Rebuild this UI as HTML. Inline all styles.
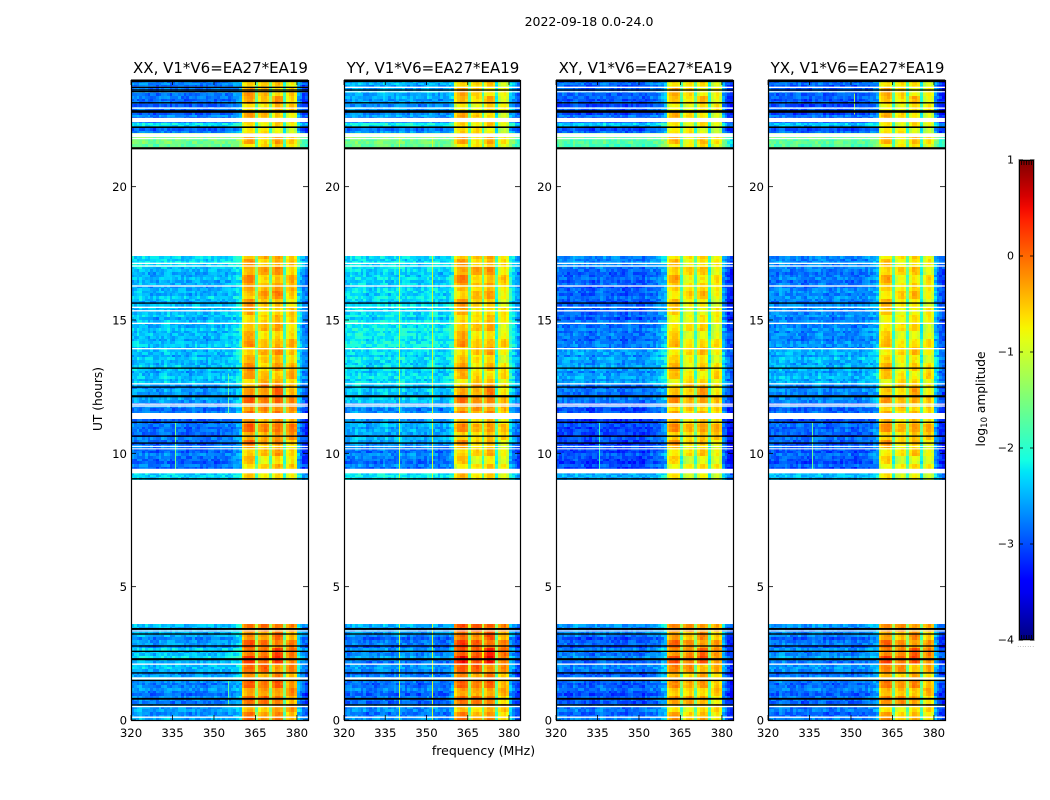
<!DOCTYPE html>
<html><head><meta charset="utf-8"><title>2022-09-18 0.0-24.0</title>
<style>
html,body{margin:0;padding:0;background:#fff;width:1050px;height:800px;overflow:hidden}
svg{display:block}
text{font-family:"DejaVu Sans","Liberation Sans",sans-serif;fill:#000}
</style></head>
<body>
<svg id="fig" xmlns="http://www.w3.org/2000/svg" width="1050" height="800" viewBox="0 0 1050 800">
<defs><linearGradient id="cbar-grad" x1="0" y1="1" x2="0" y2="0"></linearGradient></defs>
<text x="589" y="26" font-size="12.5" text-anchor="middle">2022-09-18 0.0-24.0</text>
<text x="483.5" y="755" font-size="12.5" text-anchor="middle">frequency (MHz)</text>
<text x="0" y="0" font-size="12.2" text-anchor="middle" transform="translate(102,399) rotate(-90)">UT (hours)</text>
<text x="0" y="0" font-size="12.2" text-anchor="middle" transform="translate(985,399) rotate(-90)">log<tspan font-size="8.5" dy="2">10</tspan><tspan dy="-2"> amplitude</tspan></text>
<g id="panels"></g>
<g id="colorbar"></g>
</svg>
<script>
/* ---- chart data ---- */
const panelNames = ['XX', 'YY', 'XY', 'YX'];
const baselineLabel = 'V1*V6=EA27*EA19';
const xTicks = [320, 335, 350, 365, 380];
const yTicks = [0, 5, 10, 15, 20];
const cbarTicks = [1, 0, -1, -2, -3, -4];
const cbarLabels = ['1', '0', '\u22121', '\u22122', '\u22123', '\u22124'];

/* time blocks: start UT, end UT */
const blockStart = [0.0,0.5,1.5,2.1,2.7,3.2, 9.0,9.4,10.3,11.5,11.9,12.6,13.9,15.0,15.9,16.3,17.0, 21.4,22.0,22.2,22.4,22.7,23.5];
const blockEnd   = [0.5,1.5,2.1,2.7,3.2,3.6, 9.4,10.3,11.3,11.9,12.6,13.9,15.0,15.9,16.3,17.0,17.4, 22.0,22.2,22.4,22.7,23.5,24.0];
/* mean log10 amplitude of the 320-360 MHz part per block */
const lowXX = [-2.6,-2.7,-2.5,-2.4,-2.6,-2.5, -2.4,-2.8,-2.85,-2.8,-2.6,-2.45,-2.45,-2.45,-2.5,-2.5,-2.3, -1.5,-2.8,-2.25,-2.7,-2.85,-2.75];
const lowYY = [-2.7,-2.8,-2.7,-2.7,-2.8,-2.6, -2.3,-2.75,-2.55,-2.7,-2.4,-2.3,-2.2,-2.3,-2.3,-2.35,-2.3, -1.5,-2.7,-2.15,-2.6,-2.6,-2.5];
const lowXY = [-2.8,-2.9,-2.8,-2.8,-2.9,-2.7, -2.6,-3.0,-3.05,-3.0,-2.8,-2.6,-2.8,-2.9,-2.9,-2.9,-2.7, -1.7,-2.9,-2.4,-2.8,-2.95,-2.85];
const lowYX = [-2.8,-2.8,-2.7,-2.7,-2.8,-2.7, -2.5,-2.9,-2.9,-2.9,-2.7,-2.5,-2.7,-2.7,-2.7,-2.8,-2.7, -1.6,-2.9,-2.4,-2.8,-2.95,-2.85];
/* mean log10 amplitude of the 360-380 MHz part per block */
const highXX = [-.35,-.25,-.25,-.05,-.2,-.3, -.65,-.6,-.3,-.2,-.25,-.5,-.55,-.55,-.4,-.45,-.45, -.6,-.8,-.8,-.6,-.55,-.6];
const highYY = [-.4,-.25,-.15,.15,-.05,-.1, -.55,-.65,-.5,-.25,-.35,-.6,-.55,-.55,-.55,-.4,-.45, -.6,-.7,-.7,-.6,-.65,-.6];
const highXY = [-.6,-.5,-.4,-.15,-.3,-.4, -.8,-.75,-.5,-.5,-.5,-.7,-.75,-.75,-.65,-.65,-.65, -.7,-.8,-.8,-.7,-.7,-.7];
const highYX = [-.6,-.4,-.4,-.1,-.3,-.4, -.8,-.75,-.5,-.5,-.55,-.7,-.75,-.7,-.65,-.65,-.65, -.7,-.8,-.8,-.7,-.7,-.7];

/* frequency channels and their offsets from the block mean */
const lowChannels = [320,321,322,323,324,325,326,327,328,329,330,331,332,333,334,335,336,337,338,339,340,341,342,343,344,345,346,347,348,349,350,351,352,353,354,355,356,357,358,359];
const lowOffsetXX = [.05,.05,.1,.1,.05,.05,0,0,-.05,-.05,.05,.05,.1,.1,0,0,.05,.05,0,0,-.05,-.05,.05,.05,0,0,-.05,-.05,.05,.05,0,0,.05,.05,.05,.05,.1,.15,.25,.35];
const lowOffsetYY = [0,0,.05,.05,.1,.1,.05,.05,-.05,-.05,0,0,.05,.05,.1,.1,0,0,.05,.05,.1,.1,0,0,.05,.05,-.05,-.05,0,0,.1,.1,.05,.05,-.05,-.05,0,0,.15,.25];
const lowOffsetXY = [.05,.05,.05,.05,0,0,.1,.1,.05,.05,0,0,-.05,-.05,.05,.05,.1,.1,0,0,.05,.05,0,0,-.05,-.05,.05,.05,0,0,-.05,-.05,.05,.05,.1,.1,.15,.2,.35,.45];
const lowOffsetYX = [.05,.05,0,0,.1,.1,.05,.05,0,0,.05,.05,-.05,-.05,0,0,.05,.05,.1,.1,0,0,-.05,-.05,.05,.05,0,0,.05,.05,-.05,-.05,0,0,.05,.05,.1,.1,.2,.3];
const highChannels = [360,361,362,363,364,365,366,367,368,369,370,371,372,373,374,375,376,377,378,379];
const highOffset   = [-.35,-.1,0,.05,-.1,-1.15,-.2,-.05,.05,-.1,-1.15,-.2,.05,.05,-.1,-1.3,-.25,-.05,.05,-.2];
const subbandXX = [.05,0,.05,-.05];
const subbandYY = [.05,-.05,0,-.2];
const subbandXY = [.05,-.05,0,-.1];
const subbandYX = [.05,-.05,0,-.1];
const edgeChannels = [380,381,382,383];
const edgeOffset   = [.3,.05,-.2,-.3];

/* per-0.1 h row variation (tenths of a decade), one value per data row */
const rowStripe = [
 2,-1,-2,1,0,3,-2,0,1,-3,-1,2,0,-2,1,2,-1,-3,0,2,1,-2,-1,3,0,-1,2,-2,1,0,-3,2,1,-1,0,2,
 1,2,1,-1,-2,1,-3,-1,0,2,-2,-1,1,-2,0,2,-3,0,1,-1,2,0,-2,1,-1,2,-2,0,1,2,-1,1,-2,0,1,-1,2,0,-2,1,1,-1,0,2,-2,1,0,-1,2,1,-2,0,1,-1,2,-1,0,1,-2,2,0,-1,1,1,-2,0,2,-1,1,0,-2,1,-1,2,0,-1,1,
 2,0,1,-1,0,2,-3,-1,-2,1,3,1,-2,-1,1,-2,-3,1,-2,0,2,-2,1,-1,2,1];
/* cell-to-cell speckle (tenths of a decade) sampled through the grid */
const speckle = [
 1,-2,3,0,-3,2,-1,1,-4,2,0,-2,3,-1,1,-3,2,0,-1,4,-2,1,0,-3,2,-1,3,-2,0,1,
 -3,2,1,-1,-2,3,0,-4,1,2,-1,0,-3,3,1,-2,2,-1,0,-3,1,4,-2,0,2,-1,-3,1,0,3,
 -2,1,-1,2,-3,0,3,-2,1,-1,0,2,-4,1,3,-1,0,-2,2,1,-3,0,2,-1,3,-2,1,0,-3,2,
 -1,1,3,-2,0,-4,2,1,-1,0,2];
/* slower amplitude blobs in the four high-frequency sub-bands, one value per 0.3 h of data */
const blobA = [3,-1,2,-1,3,0,2,3,-1,3,0,2, 1,-1,2,0,3,-1,3,1,-1,3,0,-2,2,3,1,-1,3,2,0,-1,2,3,-1,1,3,0,2,-1,3,1, 1,3,-1,2,3,0,2];
const blobB = [1,-2,3,0,2,-1,3,1,0,2,-1,3, -1,1,-2,2,0,-1,2,-1,1,2,0,2,1,-1,0,2,1,-1,2,0,-1,1,2,0,-1,2,-1,1,0,2, 0,2,-1,1,2,1,0];
const blobC = [2,0,1,-1,3,1,-1,3,2,0,2,1, 0,2,-1,3,1,0,2,1,-1,2,3,1,-1,2,0,3,1,-1,2,1,-1,0,3,1,-1,2,0,1,3,-1, 2,0,1,3,-1,1,0];
const blobD = [0,2,-1,2,1,-1,2,0,1,2,-1,2, -1,2,0,1,-1,2,3,0,1,2,-1,0,3,2,-1,1,3,0,-1,1,2,-1,0,1,2,-1,1,0,2,-1, 1,-1,2,0,1,-1,2];

/* flagged (blank) samples: start UT, end UT */
const whiteStart = [.08,.48,1.52,2.07,3.32, 9.25,10.15,10.24,11.3,11.75,11.82,12.58,13.9,14.85,15.32,15.45,16.25,17.0,17.1, 21.78,21.86,22.42,22.92,23.54,23.7];
const whiteEnd   = [.13,.53,1.6,2.12,3.36, 9.42,10.19,10.28,11.5,11.8,11.87,12.63,13.95,14.9,15.37,15.5,16.3,17.05,17.15, 21.83,22.0,22.58,22.97,23.58,23.75];
/* zero-valued samples drawn black: start UT, end UT */
const blackStart = [.54,.76,1.46,1.74,2.24,2.55,2.75,3.2,3.38, 9.02,10.36,10.62,11.14,12.1,12.46,13.17,15.61, 21.4,22.2,22.77,23.12,23.6,23.92];
const blackEnd   = [.59,.83,1.51,1.79,2.32,2.6,2.8,3.25,3.45, 9.07,10.41,10.67,11.19,12.18,12.51,13.22,15.66, 21.48,22.26,22.87,23.17,23.65,24.02];
/* samples that are zero only in the XX panel */
const xxBlackStart = [23.54,23.7];
const xxBlackEnd   = [23.59,23.75];

/* narrow interference channels */
const rfiPanel = [0,0,0,1,1,1,1,1,1,2,3,3];
const rfiFreq  = [335.9,355,355,339.9,339.9,339.9,351.9,351.9,351.9,335.5,336,351];
const rfiStart = [9.4,11.5,0.5,0,9,21.4,0,9,21.4,9.4,9.4,22.7];
const rfiEnd   = [11.2,13,1.5,3.6,17.4,22,3.6,17.4,22,11.2,11.2,23.5];
const rfiValue = [-1.5,-1.7,-1.7,-1.1,-1.1,-1.1,-1.0,-1.0,-1.0,-1.9,-1.6,-1.3];

/* ---- axes ---- */
const panelLeft = [131, 344, 556, 768];
const panelRight = [308, 520, 733, 945];
const axisTop = 80, axisBottom = 720;
const xMin = 320, xMax = 384, utMax = 24;
const vMin = -4, vMax = 1;
const cbarTop = 160, cbarBottom = 640, cbarLeft = 1019, cbarRight = 1034;
function xPos(p, f){ return panelLeft[p] + (f - xMin) / (xMax - xMin) * (panelRight[p] - panelLeft[p]); }
function yPos(ut){ return axisBottom - ut / utMax * (axisBottom - axisTop); }
function cbarY(v){ return cbarBottom - (v - vMin) / (vMax - vMin) * (cbarBottom - cbarTop); }

function interp(pts, t){
  for (let i = 1; i < pts.length; i++) {
    if (t <= pts[i][0]) {
      const a = pts[i-1], b = pts[i];
      return a[1] + (b[1] - a[1]) * (t - a[0]) / (b[0] - a[0]);
    }
  }
  return pts[pts.length-1][1];
}
const jetR = [[0,0],[.35,0],[.66,1],[.89,1],[1,.5]];
const jetG = [[0,0],[.125,0],[.375,1],[.64,1],[.91,0],[1,0]];
const jetB = [[0,.5],[.11,1],[.34,1],[.65,0],[1,0]];
function jet(v){
  const t = Math.min(1, Math.max(0, (v - vMin) / (vMax - vMin)));
  return 'rgb(' + Math.round(interp(jetR,t)*255) + ',' + Math.round(interp(jetG,t)*255) + ',' + Math.round(interp(jetB,t)*255) + ')';
}

const NS = 'http://www.w3.org/2000/svg';
function mk(tag, attrs, parent){
  const el = document.createElementNS(NS, tag);
  for (const k in attrs) el.setAttribute(k, attrs[k]);
  parent.appendChild(el);
  return el;
}

const lowByPanel = [lowXX, lowYY, lowXY, lowYX];
const highByPanel = [highXX, highYY, highXY, highYX];
const lowOffsets = [lowOffsetXX, lowOffsetYY, lowOffsetXY, lowOffsetYX];
const subbands = [subbandXX, subbandYY, subbandXY, subbandYX];
const blobs = [blobA, blobB, blobC, blobD];
const panelsG = document.getElementById('panels');

function channelValue(p, b, ci, dataRow){
  const stripe = rowStripe[dataRow % rowStripe.length] * 0.05;
  const sp = speckle[(ci * 17 + dataRow * 31 + p * 41) % speckle.length] * 0.06 - 0.03;
  if (ci < lowChannels.length) {
    return lowByPanel[p][b] + lowOffsets[p][ci] + stripe + sp;
  }
  const hi = ci - lowChannels.length;
  if (hi < highChannels.length) {
    const sb = Math.min(3, Math.floor((highChannels[hi] - 360) / 5));
    const blob = blobs[sb][Math.floor(dataRow / 3) % blobs[sb].length] * 0.1;
    return highByPanel[p][b] + highOffset[hi] + subbands[p][sb] + blob + stripe * 0.3 + sp * 0.3;
  }
  return lowByPanel[p][b] + edgeOffset[hi - highChannels.length] + stripe + sp;
}

const allChannels = lowChannels.concat(highChannels, edgeChannels);
const channelEnds = allChannels.slice(1).concat([xMax]);

panelNames.forEach(function(name, p){
  const g = document.createElementNS(NS, 'g');
  
  
  panelsG.appendChild(g);
  const x0 = panelLeft[p], x1 = panelRight[p];

  const heat = mk('g', {'shape-rendering':'crispEdges'}, g);
  
  

  let dataRow = 0;
  blockStart.forEach(function(s, b){
    const e = blockEnd[b];
    const n = Math.round((e - s) * 10);
    for (let r = 0; r < n; r++, dataRow++) {
      const u0 = s + r * 0.1, u1 = Math.min(u0 + 0.1, e);
      const yT = Math.round(yPos(u1)), yB = Math.round(yPos(u0));
      let runStart = 0, runColor = null;
      for (let c = 0; c <= allChannels.length; c++) {
        const col = c < allChannels.length ? jet(Math.round(channelValue(p, b, c, dataRow) * 20) / 20) : null;
        if (col !== runColor) {
          if (runColor) {
            const xa = Math.round(xPos(p, allChannels[runStart]));
            const xb = Math.round(xPos(p, channelEnds[c-1]));
            const cell = mk('rect', {x:xa, y:yT, width:xb-xa, height:yB-yT, fill:runColor}, heat);
            
            
          }
          runStart = c; runColor = col;
        }
      }
    }
  });

  rfiPanel.forEach(function(rp, i){
    if (rp !== p) return;
    const xr = Math.round(xPos(p, rfiFreq[i]));
    const line = mk('rect', {x:xr, y:yPos(rfiEnd[i]), width:1, height:yPos(rfiStart[i]) - yPos(rfiEnd[i]), fill:jet(rfiValue[i])}, heat);
    
    
  });

  whiteStart.forEach(function(s, i){
    const yT = yPos(whiteEnd[i]), yB = yPos(s);
    const band = mk('rect', {x:x0, y:yT, width:x1-x0, height:Math.max(1, yB-yT), fill:'#fff'}, g);
    
    
  });
  blackStart.forEach(function(s, i){
    const yT = yPos(blackEnd[i]), yB = yPos(s);
    const band = mk('rect', {x:x0, y:yT, width:x1-x0, height:Math.max(1, yB-yT), fill:'#000'}, g);
    
    
  });
  if (p === 0) {
    xxBlackStart.forEach(function(s, i){
      const yT = yPos(xxBlackEnd[i]), yB = yPos(s);
      const band = mk('rect', {x:x0, y:yT, width:x1-x0, height:Math.max(1, yB-yT), fill:'#000'}, g);
      
      
    });
  }

  const frame = mk('rect', {x:x0+.5, y:axisTop+.5, width:x1-x0, height:axisBottom-axisTop, fill:'none', stroke:'#000', 'stroke-width':1.2}, g);
  
  

  xTicks.forEach(function(t){
    const x = xPos(p, t);
    const tb = mk('line', {x1:x, x2:x, y1:axisBottom, y2:axisBottom-5, stroke:'#000', 'stroke-width':.8}, g);
    
    
    const tt = mk('line', {x1:x, x2:x, y1:axisTop, y2:axisTop+5, stroke:'#000', 'stroke-width':.8}, g);
    
    
    const lab = mk('text', {x:x, y:axisBottom+17, 'font-size':11.7, 'text-anchor':'middle'}, g);
    
    
    lab.textContent = t;
  });
  yTicks.forEach(function(t){
    const y = yPos(t);
    const tl = mk('line', {x1:x0, x2:x0+5, y1:y, y2:y, stroke:'#000', 'stroke-width':.8}, g);
    
    
    const tr = mk('line', {x1:x1, x2:x1-5, y1:y, y2:y, stroke:'#000', 'stroke-width':.8}, g);
    
    
    const lab = mk('text', {x:x0-4, y:y+4.5, 'font-size':11.7, 'text-anchor':'end'}, g);
    
    
    lab.textContent = t;
  });
  const title = mk('text', {x:(x0+x1)/2+1, y:73, 'font-size':15, 'text-anchor':'middle'}, g);
  
  
  title.textContent = name + ', ' + baselineLabel;
});

/* ---- colorbar ---- */
const grad = document.getElementById('cbar-grad');
for (let i = 0; i <= 40; i++) {
  const v = vMin + (vMax - vMin) * i / 40;
  mk('stop', {offset:(i/40), 'stop-color':jet(v)}, grad);
}
const cb = document.getElementById('colorbar');
const cbFill = mk('rect', {x:cbarLeft, y:cbarTop, width:cbarRight-cbarLeft, height:cbarBottom-cbarTop, fill:'url(#cbar-grad)'}, cb);


const cbHalo = mk('rect', {x:cbarLeft-.5, y:cbarTop-.5, width:cbarRight-cbarLeft+1, height:cbarBottom-cbarTop+1, fill:'none', stroke:'#bbb', 'stroke-width':1}, cb);


const cbFrame = mk('rect', {x:cbarLeft+.5, y:cbarTop+.5, width:cbarRight-cbarLeft-1, height:cbarBottom-cbarTop-1, fill:'none', stroke:'#000', 'stroke-width':1}, cb);


cbarTicks.forEach(function(v, i){
  const y = cbarY(v);
  const a = mk('line', {x1:cbarLeft, x2:cbarLeft+4, y1:y, y2:y, stroke:'#000', 'stroke-width':.8}, cb);
  
  
  const b = mk('line', {x1:cbarRight, x2:cbarRight-4, y1:y, y2:y, stroke:'#000', 'stroke-width':.8}, cb);
  
  
  const lab = mk('text', {x:cbarLeft-5, y:y+3.5, 'font-size':11, 'text-anchor':'end'}, cb);
  
  
  lab.textContent = cbarLabels[i];
});
[1,2,3,4,5].forEach(function(k){
  const x = cbarLeft + k * (cbarRight - cbarLeft) / 6;
  const top = mk('line', {x1:x, x2:x, y1:cbarTop, y2:cbarTop+5, stroke:'#000', 'stroke-width':.8}, cb);
  
  
  const bot = mk('line', {x1:x, x2:x, y1:cbarBottom, y2:cbarBottom-5, stroke:'#000', 'stroke-width':.8}, cb);
  
  
});
const dots = mk('text', {x:1026, y:647, 'font-size':6, 'text-anchor':'middle', style:'fill:#888;letter-spacing:.6px'}, cb);


dots.textContent = '.......';
</script>
</body></html>
